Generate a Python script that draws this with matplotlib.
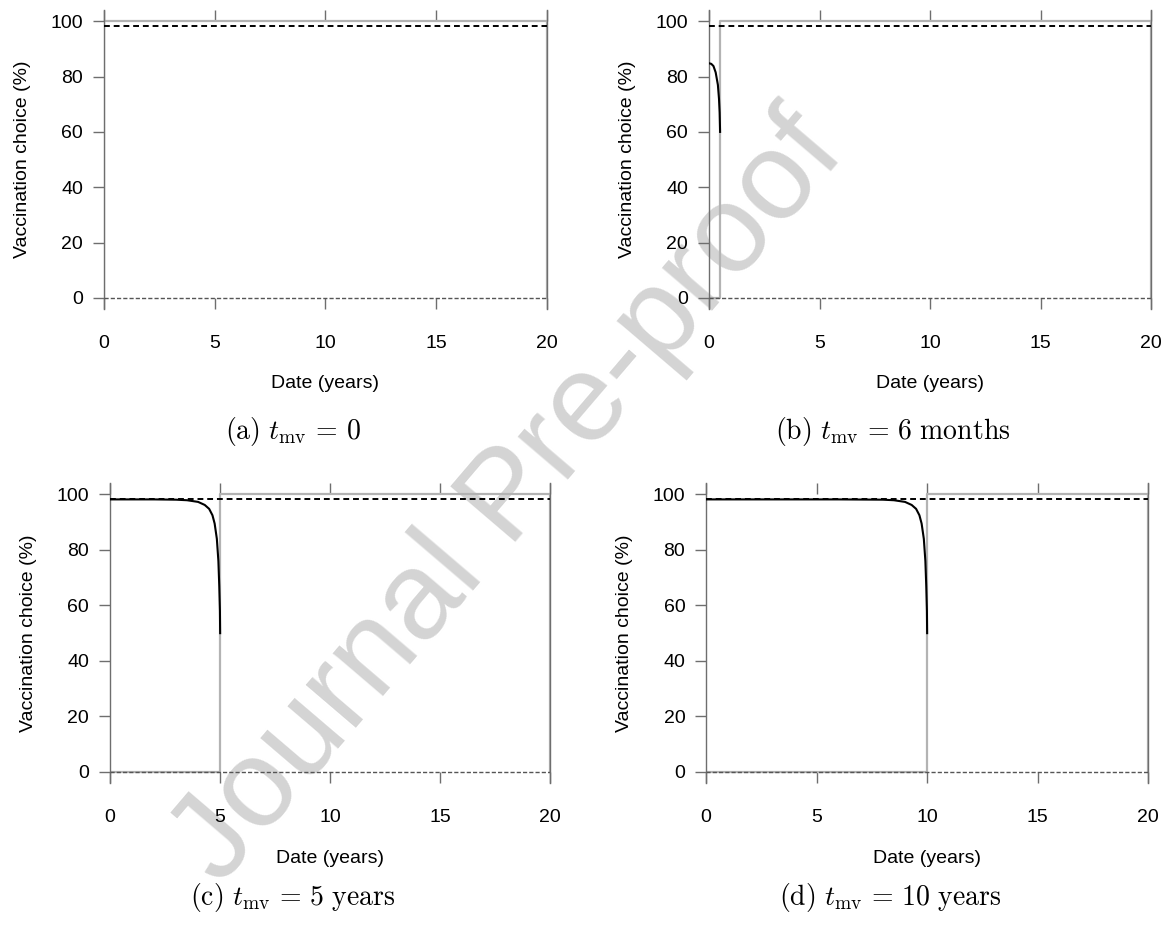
import matplotlib
matplotlib.use("Agg")
from matplotlib import pyplot as plt

plt.rcParams["font.family"] = ["Liberation Sans", "DejaVu Sans"]
plt.rcParams["mathtext.fontset"] = "cm"

# date of market introduction of the vaccine (years), one per panel
t_mv = [0, 0.5, 5, 10]
t_end = 20
captions = [r"$\mathrm{(a)}\ t_{\mathrm{mv}}\,=\,0$",
            r"$\mathrm{(b)}\ t_{\mathrm{mv}}\,=\,6\ \mathrm{months}$",
            r"$\mathrm{(c)}\ t_{\mathrm{mv}}\,=\,5\ \mathrm{years}$",
            r"$\mathrm{(d)}\ t_{\mathrm{mv}}\,=\,10\ \mathrm{years}$"]

# vaccination choice (%) before t_mv -- black curve
choice_t = [
    [],
    [0, 0.1, 0.2, 0.3, 0.4, 0.45, 0.48, 0.5],
    [0, 1, 2, 3, 3.5, 4.0, 4.3, 4.5, 4.65, 4.75, 4.85, 4.92, 4.96, 4.99, 5.0],
    [0, 2, 4, 6, 8, 8.5, 9.0, 9.3, 9.5, 9.65, 9.75, 9.85, 9.92, 9.96, 9.99, 10.0],
]
choice_v = [
    [],
    [84.8, 84.6, 83.8, 81.5, 77.0, 72.0, 67.0, 60.0],
    [98.2, 98.2, 98.2, 98.1, 97.9, 97.3, 96.2, 94.8, 92.5, 89.5, 84.0, 76.0, 67.0, 58.0, 50.0],
    [98.2, 98.2, 98.2, 98.2, 98.1, 97.9, 97.3, 96.2, 94.8, 92.5, 89.5, 84.0, 76.0, 67.0, 58.0, 50.0],
]
# dashed reference levels
eq_level = 98.2
zero_level = 0

# axes rectangles [left, bottom, width, height] in figure fraction
rects = [[0.0888, 0.666, 0.378, 0.323],
         [0.6055, 0.666, 0.3775, 0.323],
         [0.0940, 0.1535, 0.3760, 0.324],
         [0.6030, 0.1535, 0.3775, 0.324]]
cap_pos = [(0.25, 0.533), (0.762, 0.533), (0.25, 0.030), (0.76, 0.030)]

fig = plt.figure(figsize=(11.71, 9.25), dpi=100)

# watermark
fig.text(0.435, 0.46, "Journal Pre-proof", fontsize=90, color="#d4d4d4",
         rotation=49.5, ha="center", va="center", zorder=-5)

spine_c = "#6e6e6e"
for i in range(4):
    ax = fig.add_axes(rects[i])
    ax.patch.set_alpha(0)
    tm = t_mv[i]
    # vaccine availability step (light grey)
    ax.plot([0, tm, tm, t_end, t_end], [0, 0, 100, 100, 0],
            color="#b3b3b3", lw=1.6, zorder=2)
    ax.axhline(zero_level, color="#555555", lw=1.0, ls=(0, (3, 1.5)), zorder=3)
    ax.axhline(eq_level, color="black", lw=1.4, ls=(0, (3, 2)), zorder=3)
    if choice_t[i]:
        ax.plot(choice_t[i], choice_v[i], color="black", lw=1.5, zorder=4)

    ax.set_xlim(0, t_end)
    ax.set_ylim(-4, 104)
    for s in ["top", "bottom"]:
        ax.spines[s].set_visible(False)
    for s in ["left", "right"]:
        ax.spines[s].set_color(spine_c)
        ax.spines[s].set_linewidth(1.0)
    ax.set_xticks([0, 5, 10, 15, 20])
    ax.set_yticks([0, 20, 40, 60, 80, 100])
    ax.tick_params(axis="x", direction="in", length=8, width=1.0, color=spine_c,
                   top=True, labelsize=14, pad=19)
    ax.tick_params(axis="y", direction="out", length=8, width=1.0, color=spine_c,
                   labelsize=14, pad=7)
    ax.set_xlabel("Date (years)", fontsize=14)
    ax.set_ylabel("Vaccination choice (%)", fontsize=14)
    ax.xaxis.set_label_coords(0.5, -0.222)
    ax.yaxis.set_label_coords(-0.165, 0.5)

    fig.text(cap_pos[i][0], cap_pos[i][1], captions[i], fontsize=20,
             ha="center", va="center")

fig.savefig("out.png", dpi=100)
